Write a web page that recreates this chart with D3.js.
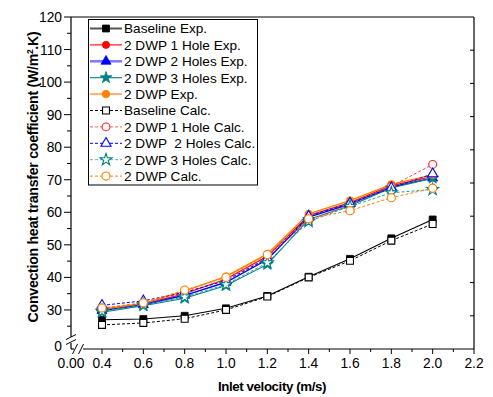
<!DOCTYPE html>
<html><head><meta charset="utf-8">
<script src="https://cdn.jsdelivr.net/npm/d3@7"></script>
<style>
body{margin:0;background:#fff;}
svg{font-family:"Liberation Sans",Arial,sans-serif;}
text{white-space:pre;}
</style></head>
<body><svg id="c" width="493" height="397"></svg>
<script>
const velocities = [0.4, 0.6, 0.8, 1.0, 1.2, 1.4, 1.6, 1.8, 2.0];
const baselineExp   = [27.0, 27.2, 28.2, 30.5, 34.3, 40.2, 45.7, 52.0, 57.8];
const hole1Exp      = [30.0, 31.8, 35.0, 39.5, 46.5, 59.0, 63.0, 68.2, 71.0];
const holes2Exp     = [29.8, 31.6, 34.5, 38.5, 45.5, 58.5, 62.5, 67.8, 70.5];
const holes3Exp     = [29.3, 31.3, 33.6, 37.5, 44.0, 57.8, 62.0, 67.5, 70.5];
const dwpExp        = [30.2, 32.0, 35.8, 40.3, 47.2, 59.5, 63.6, 68.6, 71.5];
const baselineCalc  = [25.4, 26.0, 27.3, 30.0, 34.1, 40.0, 45.1, 51.3, 56.4];
const hole1Calc     = [30.5, 32.0, 35.3, 39.3, 46.0, 57.5, 62.5, 68.0, 74.7];
const holes2Calc    = [31.4, 32.8, 35.4, 39.0, 45.8, 58.8, 62.8, 67.5, 71.8];
const holes3Calc    = [29.6, 31.6, 34.0, 37.8, 44.5, 57.2, 61.8, 66.0, 67.0];
const dwpCalc       = [30.6, 32.2, 36.1, 40.0, 47.0, 58.0, 60.5, 64.5, 67.4];
const seriesNames = ["Baseline Exp.","2 DWP 1 Hole Exp.","2 DWP 2 Holes Exp.","2 DWP 3 Holes Exp.","2 DWP Exp.",
  "Baseline Calc.","2 DWP 1 Hole Calc.","2 DWP  2 Holes Calc.","2 DWP 3 Holes Calc.","2 DWP Calc."];
const xTicks = [0.4,0.6,0.8,1.0,1.2,1.4,1.6,1.8,2.0,2.2];
const yTicks = [30,40,50,60,70,80,90,100,110,120];
const xTitle = "Inlet velocity (m/s)";

const seriesValues = [baselineExp,hole1Exp,holes2Exp,holes3Exp,dwpExp,baselineCalc,hole1Calc,holes2Calc,holes3Calc,dwpCalc];
const styles = [
  {color:"#000000", line:"#000000", lw:1.1, dash:null, sym:d3.symbolSquare, size:48, fill:true, legLine:"#555", legLw:2},
  {color:"#ff0000", line:"#ff0000", lw:1.1, dash:null, sym:d3.symbolCircle, size:40, fill:true, legLine:"#ff0000", legLw:1.1},
  {color:"#0000ff", line:"#0000ff", lw:1.4, dash:null, sym:d3.symbolTriangle, size:44, fill:true, legLine:"#7b7bff", legLw:2.5},
  {color:"#008080", line:"#008080", lw:1.1, dash:null, sym:d3.symbolStar, size:44, fill:true, legLine:"#008080", legLw:1.1},
  {color:"#ff8000", line:"#ff8000", lw:1.4, dash:null, sym:d3.symbolCircle, size:44, fill:true, legLine:"#ffb070", legLw:2},
  {color:"#000000", line:"#000000", lw:1, dash:"3,2", sym:d3.symbolSquare, size:48, fill:false, legLine:"#000", legLw:1},
  {color:"#ff2020", line:"#ff4040", lw:1, dash:"3,2", sym:d3.symbolCircle, size:48, fill:false, legLine:"#ff6060", legLw:1},
  {color:"#0000ff", line:"#0000ff", lw:1, dash:"3,2", sym:d3.symbolTriangle, size:44, fill:false, legLine:"#0000ff", legLw:1},
  {color:"#008080", line:"#20a0a0", lw:1, dash:"3,2", sym:d3.symbolStar, size:44, fill:false, legLine:"#5fb0b0", legLw:1},
  {color:"#ff8000", line:"#ff8000", lw:1, dash:"3,2", sym:d3.symbolCircle, size:52, fill:false, legLine:"#ff8000", legLw:1}
];

const svg = d3.select("#c");
const L=71, R=474, T=17, B=349;
const x = d3.scaleLinear().domain([0.25,2.2]).range([L,R]);
const y = d3.scaleLinear().domain([18,120]).range([B,T]);
const yR = d3.scaleLinear().domain([20,120]).range([B,T]);

// frame: top and right
svg.append("line").attr("x1",L).attr("x2",R).attr("y1",T).attr("y2",T).attr("stroke","#000").attr("stroke-width",1.2);
svg.append("line").attr("x1",R).attr("x2",R).attr("y1",T).attr("y2",B).attr("stroke","#000").attr("stroke-width",1.2);
svg.append("g").selectAll("line").data(d3.range(30,120,10)).join("line")
  .attr("x1",R).attr("x2",R-4).attr("y1",d=>yR(d)).attr("y2",d=>yR(d)).attr("stroke","#000").attr("stroke-width",1);

// left axis
const gy = svg.append("g").attr("transform",`translate(${L},0)`);
gy.append("line").attr("x1",0).attr("x2",0).attr("y1",T).attr("y2",337).attr("stroke","#000").attr("stroke-width",1.2);
gy.append("line").attr("x1",0).attr("x2",0).attr("y1",343).attr("y2",B).attr("stroke","#000").attr("stroke-width",1.2);
gy.selectAll(".maj").data(yTicks).join("line").attr("class","maj")
  .attr("x1",-7).attr("x2",0).attr("y1",d=>y(d)).attr("y2",d=>y(d)).attr("stroke","#000").attr("stroke-width",1);
gy.selectAll(".min").data(d3.range(25,120,10)).join("line").attr("class","min")
  .attr("x1",-4).attr("x2",0).attr("y1",d=>y(d)).attr("y2",d=>y(d)).attr("stroke","#000").attr("stroke-width",1);
gy.selectAll("text").data(yTicks).join("text")
  .attr("x",-9).attr("y",d=>y(d)).attr("dy","0.36em").attr("text-anchor","end")
  .attr("font-size",13.8).text(d=>d);
gy.append("text").attr("x",-9).attr("y",346).attr("dy","0.36em").attr("text-anchor","end").attr("font-size",13.8).text("0");
[337,342].forEach(yy=>gy.append("line").attr("x1",-5).attr("x2",5).attr("y1",yy+2.5).attr("y2",yy-2.5).attr("stroke","#000").attr("stroke-width",1));

// bottom axis
const gx = svg.append("g").attr("transform",`translate(0,${B})`);
gx.append("line").attr("x1",L).attr("x2",74).attr("y1",0).attr("y2",0).attr("stroke","#000").attr("stroke-width",1.2);
gx.append("line").attr("x1",83).attr("x2",R).attr("y1",0).attr("y2",0).attr("stroke","#000").attr("stroke-width",1.2);
[75,81].forEach(xx=>gx.append("line").attr("x1",xx-2.5).attr("x2",xx+2.5).attr("y1",5).attr("y2",-5).attr("stroke","#000").attr("stroke-width",1));
gx.selectAll(".maj").data(xTicks).join("line").attr("class","maj")
  .attr("x1",d=>x(d)).attr("x2",d=>x(d)).attr("y1",0).attr("y2",5).attr("stroke","#000").attr("stroke-width",1);
gx.selectAll(".min").data(d3.range(0.5,2.2,0.2)).join("line").attr("class","min")
  .attr("x1",d=>x(d)).attr("x2",d=>x(d)).attr("y1",0).attr("y2",3).attr("stroke","#000").attr("stroke-width",1);
gx.selectAll("text").data(xTicks).join("text")
  .attr("x",d=>x(d)).attr("y",19).attr("text-anchor","middle").attr("font-size",13.8).text(d=>d3.format(".1f")(d));
gx.append("text").attr("x",71).attr("y",19).attr("text-anchor","middle").attr("font-size",13.8).text("0.00");

// titles
svg.append("text").attr("x",272).attr("y",391).attr("text-anchor","middle").attr("font-size",13.3).attr("font-weight","bold")
  .attr("letter-spacing",-0.4).text(xTitle);
const yt = svg.append("text").attr("transform","translate(38,177) rotate(-90)").attr("text-anchor","middle")
  .attr("font-size",14.2).attr("font-weight","bold").attr("letter-spacing",-0.3);
yt.append("tspan").text("Convection heat transfer coefficient (W/m");
yt.append("tspan").attr("font-size",8.5).attr("dy",-5.5).text("2");
yt.append("tspan").attr("dy",5.5).text(".K)");

// series
const line = d3.line().x((d,i)=>x(velocities[i])).y(d=>y(d));
const gs = svg.append("g");
seriesValues.forEach((vals,k)=>{
  const s = styles[k];
  gs.append("path").datum(vals).attr("d",line).attr("fill","none").attr("stroke",s.line)
    .attr("stroke-width",s.lw).attr("stroke-dasharray",s.dash);
});
seriesValues.forEach((vals,k)=>{
  const s = styles[k];
  gs.append("g").selectAll("path").data(vals).join("path")
    .attr("transform",(d,i)=>`translate(${x(velocities[i])},${y(d)})`)
    .attr("d",d3.symbol().type(s.sym).size(s.size))
    .attr("fill",s.fill?s.color:"#fff").attr("stroke",s.color).attr("stroke-width",s.fill?0.8:1.1);
});

// legend
const lg = svg.append("g");
lg.append("rect").attr("x",88.5).attr("y",19.5).attr("width",169).attr("height",165.5).attr("fill","#fff").attr("stroke","#000").attr("stroke-width",1);
seriesNames.forEach((name,k)=>{
  const s = styles[k];
  const yy = 28.5 + k*16.4;
  lg.append("line").attr("x1",90).attr("x2",122).attr("y1",yy).attr("y2",yy).attr("stroke",s.legLine)
    .attr("stroke-width",s.legLw).attr("stroke-dasharray",s.dash);
  lg.append("path").attr("transform",`translate(106,${yy})`).attr("d",d3.symbol().type(s.sym).size(s.size))
    .attr("fill",s.fill?s.color:"#fff").attr("stroke",s.color).attr("stroke-width",s.fill?0.8:1.1);
  lg.append("text").attr("x",124).attr("y",yy).attr("dy","0.36em").attr("font-size",13.6).text(name);
});
</script></body></html>
